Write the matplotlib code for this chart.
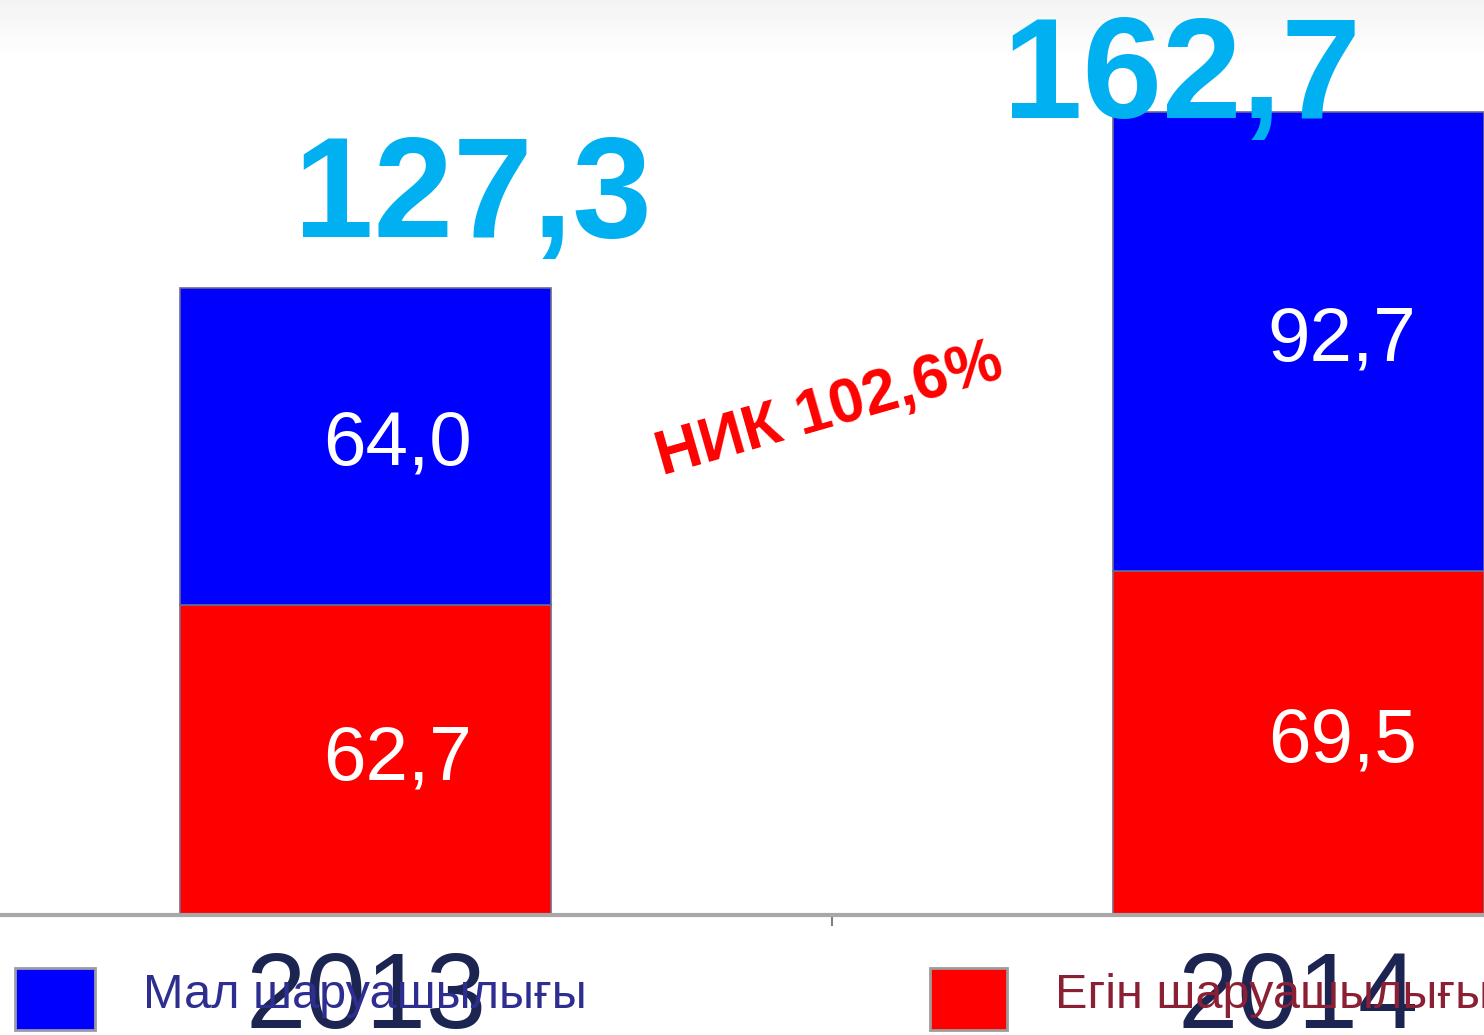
import matplotlib.pyplot as plt
from matplotlib.patches import Rectangle
import numpy as np

years = ["2013", "2014"]
crop = [62.7, 69.5]        # Егін шаруашылығы
livestock = [64.0, 92.7]   # Мал шаруашылығы
totals = ["127,3", "162,7"]
crop_lbl = ["62,7", "69,5"]
live_lbl = ["64,0", "92,7"]
growth = "НИК 102,6%"

plt.rcParams["font.family"] = ["Liberation Sans", "DejaVu Sans"]

fig = plt.figure(figsize=(14.84, 10.35), dpi=100)
fig.patch.set_facecolor("white")

# soft background gradient
bg = fig.add_axes([0, 0, 1, 1], zorder=-1)
grad = np.ones((200, 1))
grad[:12, 0] = np.linspace(0.955, 1.0, 12)
bg.imshow(grad, cmap="gray", vmin=0, vmax=1, aspect="auto", extent=[0, 1, 0, 1])
bg.axis("off")

base = 1 - 915 / 1035
ax = fig.add_axes([0, base, 1, 1 - base])
ax.patch.set_alpha(0)

x = np.arange(len(years))
w = 0.398
ax.bar(x, crop, w, color="#FF0000", edgecolor="#7a6a80", linewidth=1.2)
ax.bar(x, livestock, w, bottom=crop, color="#0000FF", edgecolor="#6a6a90", linewidth=1.2)

ax.set_xlim(-0.392, 1.199)
ax.set_ylim(0, 184.8)

offs = [0.034, 0.047]
for i in x:
    ax.text(i + offs[i], crop[i] / 2, crop_lbl[i], color="white", fontsize=55,
            ha="center", va="center")
    ax.text(i + offs[i], crop[i] + livestock[i] / 2, live_lbl[i], color="white",
            fontsize=55, ha="center", va="center")

ax.text(0.115, 144.5, totals[0], color="#00B0F0", fontsize=103, fontweight="bold",
        ha="center", va="center")
ax.text(0.875, 168.5, totals[1], color="#00B0F0", fontsize=103, fontweight="bold",
        ha="center", va="center")
ax.text(0.497, 102, growth, color="#FF0000", fontsize=45, fontweight="bold",
        ha="center", va="center", rotation=16)

for s in ["top", "right", "left"]:
    ax.spines[s].set_visible(False)
ax.spines["bottom"].set_color("#A8A8A8")
ax.spines["bottom"].set_linewidth(3)
ax.set_yticks([])
ax.set_xticks([0.5])
ax.set_xticklabels([])
ax.tick_params(axis="x", length=8, width=1.5, color="#808080")

# year labels
for i, yr in enumerate(years):
    ax.text(i, -35 / 915, yr, transform=ax.get_xaxis_transform(), color="#1c2452",
            fontsize=78, ha="center", va="top", clip_on=False)

# legend
fig.patches.append(Rectangle((15 / 1484, 1 - 1030 / 1035), 80 / 1484, 62 / 1035,
                             transform=fig.transFigure, facecolor="#0000FF",
                             edgecolor="#9a9aa8", linewidth=2))
fig.patches.append(Rectangle((930 / 1484, 1 - 1030 / 1035), 77 / 1484, 62 / 1035,
                             transform=fig.transFigure, facecolor="#FF0000",
                             edgecolor="#a09a9a", linewidth=2))
fig.text(143 / 1484, 1 - 995 / 1035, "Мал шаруашылығы", color="#2e2e90",
         fontsize=35, ha="left", va="center")
fig.text(1055 / 1484, 1 - 995 / 1035, "Егін шаруашылығы", color="#8b2035",
         fontsize=35, ha="left", va="center")

fig.savefig("out.png", dpi=100)
